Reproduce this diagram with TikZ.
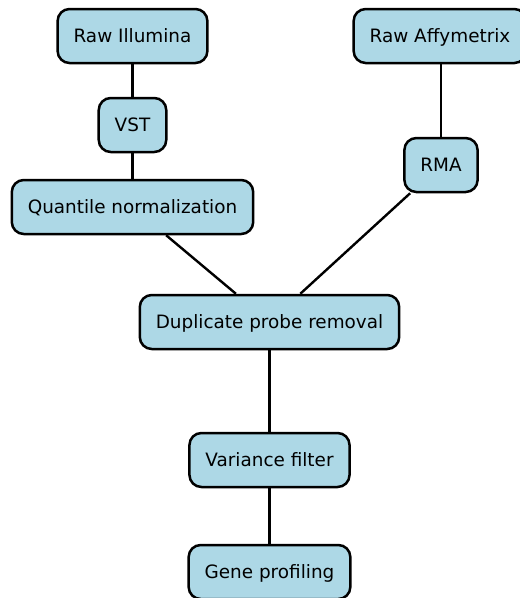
\documentclass[tikz,border=0pt]{standalone}
\usepackage{fontspec}
\setmainfont{DejaVu Sans}
\usetikzlibrary{positioning}
\definecolor{boxblue}{HTML}{ADD8E6}
\tikzset{
  stepbox/.style={draw=black, fill=boxblue, rounded corners=12pt, line width=2.5pt,
    minimum height=54pt, inner xsep=16pt, text height=1.2em, text depth=0pt,
    font=\fontsize{18.4pt}{20pt}\selectfont},
  link/.style={line width=2.4pt}
}
\begin{document}
\begin{tikzpicture}[x=1pt,y=1pt,node distance=30pt]
    \useasboundingbox (0,0) rectangle (520,-598);
    \node (illumina) [stepbox] at (132.5,-36) {Raw Illumina};
    \node (affy) [stepbox] at (440,-36) {Raw Affymetrix};
    \node (vst) [stepbox, below=32.5pt of illumina] {VST};
    \node (quantile) [stepbox, below=25.5pt of vst] {Quantile normalization};
    \node (rma) [stepbox] at (441,-165) {RMA};
    \node (dup) [stepbox] at (269.5,-322) {Duplicate probe removal};
    \node (variance) [stepbox, below=81.5pt of dup] {Variance filter};
    \node (gene) [stepbox, below=55.5pt of variance] {Gene profiling};
    \draw[link] (illumina) -- (vst);
    \draw[link] (vst) -- (quantile);
    \draw[link] (affy.south -| rma) -- (rma);
    \draw[link] (quantile) -- (dup);
    \draw[link] (rma) -- (dup);
    \draw[link] (dup) -- (variance);
    \draw[link] (variance) -- (gene);
  \end{tikzpicture}
\end{document}
